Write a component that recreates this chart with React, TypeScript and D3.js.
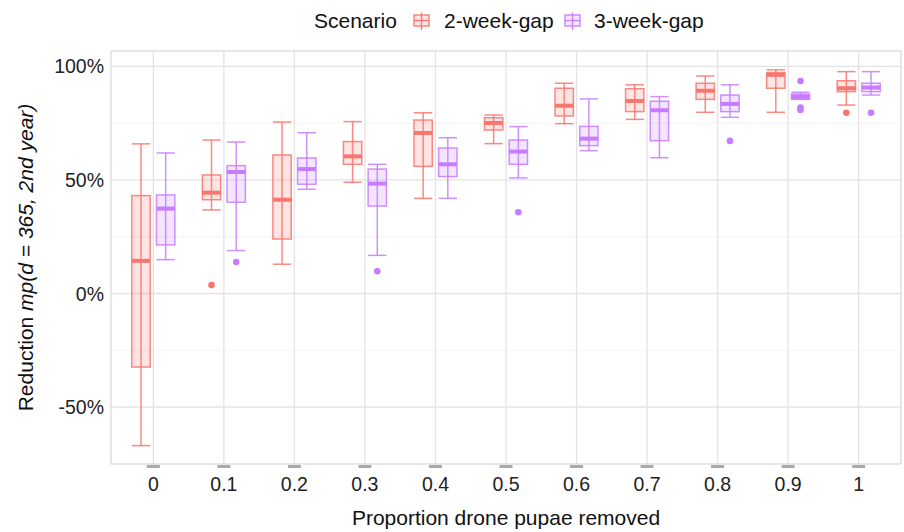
import * as d3 from "d3";

const categories = ["0", "0.1", "0.2", "0.3", "0.4", "0.5", "0.6", "0.7", "0.8", "0.9", "1"];
const scenarios = ["2-week-gap", "3-week-gap"];
const scenarioColors = ["#F8766D", "#C77CFF"];

// 2-week-gap box stats (%)
const gap2Lower = [-67.0, 36.8, 12.9, 49.0, 41.9, 66.0, 74.8, 76.7, 79.8, 79.8, 83.0];
const gap2Q1 = [-32.4, 41.3, 24.0, 56.9, 56.0, 72.0, 78.2, 80.1, 85.5, 90.4, 88.9];
const gap2Median = [14.4, 44.4, 41.3, 60.4, 70.7, 75.1, 82.7, 84.8, 89.3, 96.3, 90.4];
const gap2Q3 = [43.1, 52.2, 61.0, 66.9, 76.4, 77.4, 90.4, 90.2, 92.6, 97.3, 93.7];
const gap2Upper = [65.9, 67.6, 75.5, 75.7, 79.6, 78.6, 92.6, 91.9, 95.8, 98.5, 97.7];
const gap2Outliers = [[], [3.7], [], [], [], [], [], [], [], [], [79.6]];

// 3-week-gap box stats (%)
const gap3Lower = [14.9, 18.9, 45.9, 16.8, 41.9, 50.9, 62.9, 59.8, 77.6, 85.5, 87.4];
const gap3Q1 = [21.4, 40.2, 48.1, 38.5, 51.5, 56.9, 65.1, 67.3, 80.1, 85.7, 88.9];
const gap3Median = [37.4, 53.5, 54.8, 48.4, 56.9, 62.5, 68.2, 80.7, 83.5, 86.7, 90.7];
const gap3Q3 = [43.4, 56.3, 59.7, 54.8, 64.1, 67.6, 73.6, 84.7, 87.4, 87.8, 92.6];
const gap3Upper = [61.9, 66.7, 70.8, 56.9, 68.6, 73.5, 85.7, 86.7, 91.9, 88.6, 97.7];
const gap3Outliers = [[], [13.9], [], [9.8], [], [35.8], [], [], [67.2], [93.6, 81.9, 80.8], [79.6]];

const yMajor = [-50, 0, 50, 100];
const yMinor = [-25, 25, 75];

const W = 904;
const H = 532;
const panel = { left: 111, right: 901, top: 51, bottom: 464 };
const FONT = "Liberation Sans, Arial, sans-serif";

const seriesStats = [
  { lower: gap2Lower, q1: gap2Q1, median: gap2Median, q3: gap2Q3, upper: gap2Upper, outliers: gap2Outliers },
  { lower: gap3Lower, q1: gap3Q1, median: gap3Median, q3: gap3Q3, upper: gap3Upper, outliers: gap3Outliers },
];

export default function App() {
  const x = d3
    .scaleBand<string>()
    .domain(categories)
    .range([panel.left, panel.right])
    .paddingInner(0)
    .paddingOuter(0.1);
  const y = d3.scaleLinear().domain([-75.1, 106.8]).range([panel.bottom, panel.top]);
  const step = x.step();
  const dodge = 0.175 * step;
  const boxW = 0.26 * step;
  const center = (c: string) => (x(c) as number) + x.bandwidth() / 2;

  return (
    <svg width={W} height={H} style={{ position: "absolute", left: 0, top: 0, background: "#fff" }} fontFamily={FONT}>
      {/* grid */}
      {yMinor.map((v) => (
        <line key={"mi" + v} x1={panel.left} x2={panel.right} y1={y(v)} y2={y(v)} stroke="#f0f0f0" strokeWidth={0.8} />
      ))}
      {yMajor.map((v) => (
        <line key={"ma" + v} x1={panel.left} x2={panel.right} y1={y(v)} y2={y(v)} stroke="#e3e3e3" strokeWidth={1.3} />
      ))}
      {categories.map((c) => (
        <line key={"vx" + c} x1={center(c)} x2={center(c)} y1={panel.top} y2={panel.bottom} stroke="#e3e3e3" strokeWidth={1.3} />
      ))}

      {/* boxes */}
      {seriesStats.map((s, si) => {
        const col = scenarioColors[si];
        const off = si === 0 ? -dodge : dodge;
        return (
          <g key={scenarios[si]}>
            {categories.map((c, i) => {
              const cx = center(c) + off;
              const x0 = cx - boxW / 2;
              return (
                <g key={c}>
                  <line x1={cx} x2={cx} y1={y(s.lower[i])} y2={y(s.upper[i])} stroke={col} strokeOpacity={0.85} strokeWidth={1.5} />
                  <line x1={x0} x2={x0 + boxW} y1={y(s.lower[i])} y2={y(s.lower[i])} stroke={col} strokeOpacity={0.85} strokeWidth={1.5} />
                  <line x1={x0} x2={x0 + boxW} y1={y(s.upper[i])} y2={y(s.upper[i])} stroke={col} strokeOpacity={0.85} strokeWidth={1.5} />
                  <rect
                    x={x0}
                    y={y(s.q3[i])}
                    width={boxW}
                    height={y(s.q1[i]) - y(s.q3[i])}
                    fill={col}
                    fillOpacity={0.2}
                    stroke={col}
                    strokeOpacity={0.85}
                    strokeWidth={1.5}
                  />
                  <line x1={x0} x2={x0 + boxW} y1={y(s.median[i])} y2={y(s.median[i])} stroke={col} strokeWidth={4} />
                  {s.outliers[i].map((o, k) => (
                    <circle key={k} cx={cx} cy={y(o)} r={3.3} fill={col} />
                  ))}
                </g>
              );
            })}
          </g>
        );
      })}

      {/* panel border */}
      <rect
        x={panel.left}
        y={panel.top}
        width={panel.right - panel.left}
        height={panel.bottom - panel.top}
        fill="none"
        stroke="#cfcfcf"
        strokeWidth={1}
      />

      {/* x ticks + labels */}
      {categories.map((c) => (
        <g key={"xt" + c}>
          <rect x={center(c) - 6.5} y={panel.bottom + 1} width={13} height={3} fill="#aaaaaa" />
          <text x={center(c)} y={panel.bottom + 27} textAnchor="middle" fontSize={19.5} fill="#222">
            {c}
          </text>
        </g>
      ))}

      {/* y labels */}
      {yMajor.map((v) => (
        <text key={"yt" + v} x={104} y={y(v)} dy="0.36em" textAnchor="end" fontSize={19.5} fill="#222">
          {v + "%"}
        </text>
      ))}

      {/* axis titles */}
      <text x={(panel.left + panel.right) / 2} y={525} textAnchor="middle" fontSize={21} fill="#111">
        Proportion drone pupae removed
      </text>
      <text
        transform={`translate(33,${(panel.top + panel.bottom) / 2}) rotate(-90)`}
        textAnchor="middle"
        fontSize={21}
        fill="#111"
      >
        Reduction <tspan fontStyle="italic">mp(d = 365, 2nd year)</tspan>
      </text>

      {/* legend */}
      <text x={314} y={20} dy="0.36em" fontSize={21} fill="#111">
        Scenario
      </text>
      {scenarios.map((name, i) => {
        const kx = i === 0 ? 413 : 564;
        const col = scenarioColors[i];
        return (
          <g key={name}>
            <line x1={kx + 8.5} x2={kx + 8.5} y1={12.5} y2={30} stroke={col} strokeWidth={1.3} />
            <rect x={kx + 1} y={15} width={15} height={11} fill={col} fillOpacity={0.2} stroke={col} strokeWidth={1.3} />
            <line x1={kx + 1} x2={kx + 16} y1={20.5} y2={20.5} stroke={col} strokeWidth={1.3} />
            <text x={i === 0 ? 444 : 594} y={20} dy="0.36em" fontSize={21} fill="#111">
              {name}
            </text>
          </g>
        );
      })}
    </svg>
  );
}
